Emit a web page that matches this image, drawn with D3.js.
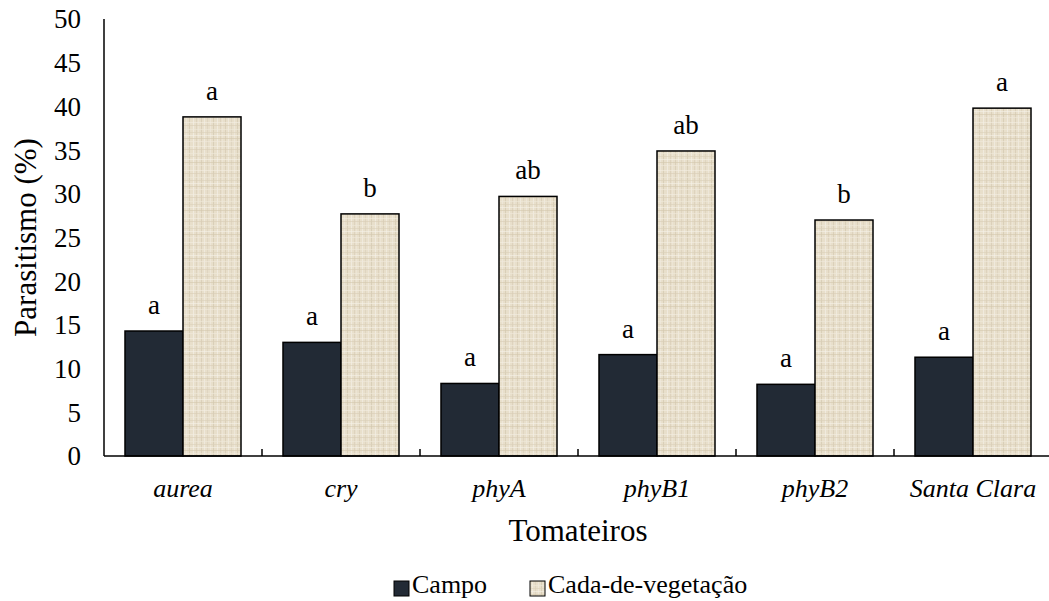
<!DOCTYPE html>
<html><head><meta charset="utf-8"><script src="https://cdn.jsdelivr.net/npm/d3@7"></script></head>
<body style="margin:0">
<script>
// Parasitismo por tomateiro

const categories = ['aurea', 'cry', 'phyA', 'phyB1', 'phyB2', 'Santa Clara'];
const seriesNames = ['Campo', 'Cada-de-vegetação'];
const campo = [14.3, 13.0, 8.3, 11.6, 8.2, 11.3];
const casa = [38.8, 27.7, 29.7, 34.9, 27.0, 39.8];
const campoLetters = ['a', 'a', 'a', 'a', 'a', 'a'];
const casaLetters = ['a', 'b', 'ab', 'ab', 'b', 'a'];
const yTicks = [0, 5, 10, 15, 20, 25, 30, 35, 40, 45, 50];

const FONT = '"Liberation Serif"';
const width = 1049, height = 601;
const margin = { top: 19, right: -3, bottom: 145, left: 104 };

const svg = d3.select('body')
  .append('svg')
  .attr('width', width)
  .attr('height', height);

// linen texture for the greenhouse bars
const defs = svg.append('defs');
const pat = defs.append('pattern')
  .attr('id', 'linen')
  .attr('patternUnits', 'userSpaceOnUse')
  .attr('width', 24)
  .attr('height', 24);
pat.append('rect').attr('width', 24).attr('height', 24).attr('fill', '#e8dfcb');
const vLines = [[1, '#d6cbb3'], [4, '#f3eee3'], [7, '#dcd2bc'], [10, '#f0eadd'], [13, '#d4c9b0'], [17, '#f4f0e6'], [20, '#dacfb8'], [22, '#eee7d8']];
const hLines = [[2, '#f3eee2'], [5, '#d8cdb5'], [9, '#efe9db'], [12, '#dbd0b9'], [15, '#f5f1e8'], [18, '#d3c8ae'], [21, '#f0eadc']];
vLines.forEach(([p, c]) => pat.append('rect').attr('x', p).attr('y', 0).attr('width', 1).attr('height', 24).attr('fill', c).attr('opacity', 0.7));
hLines.forEach(([p, c]) => pat.append('rect').attr('x', 0).attr('y', p).attr('width', 24).attr('height', 1).attr('fill', c).attr('opacity', 0.6));

const x = d3.scaleBand()
  .domain(categories)
  .range([margin.left, width - margin.right])
  .padding(0);

const xs = d3.scaleBand()
  .domain(seriesNames)
  .range([0, x.bandwidth()])
  .paddingInner(0)
  .paddingOuter(0.362);

const y = d3.scaleLinear()
  .domain([0, 50])
  .range([height - margin.bottom, margin.top]);

const y0 = y(0);

// Y axis line + labels (no tick marks)
svg.append('line')
  .attr('x1', margin.left).attr('x2', margin.left)
  .attr('y1', y(50)).attr('y2', y0)
  .attr('stroke', '#000').attr('stroke-width', 1.5);

svg.selectAll('.ytick')
  .data(yTicks)
  .enter().append('text')
  .attr('class', 'ytick')
  .style('font-family', FONT)
  .style('font-size', '27px')
  .attr('x', 81)
  .attr('y', d => y(d))
  .attr('dy', '0.35em')
  .attr('text-anchor', 'end')
  .text(d => d);

// Bars
const rows = categories.map((c, i) => ({ cat: c, vals: [campo[i], casa[i]], letters: [campoLetters[i], casaLetters[i]] }));

const groups = svg.selectAll('.grp')
  .data(rows)
  .enter().append('g')
  .attr('class', 'grp')
  .attr('transform', d => `translate(${x(d.cat)},0)`);

groups.selectAll('rect')
  .data(d => d.vals.map((v, j) => ({ v, s: seriesNames[j], letter: d.letters[j] })))
  .enter().append('rect')
  .attr('x', d => xs(d.s))
  .attr('width', xs.bandwidth())
  .attr('y', d => y(d.v))
  .attr('height', d => y0 - y(d.v))
  .attr('fill', d => d.s === 'Campo' ? '#222a35' : 'url(#linen)')
  .attr('stroke', '#000')
  .attr('stroke-width', 1.5);

groups.selectAll('.lbl')
  .data(d => d.vals.map((v, j) => ({ v, s: seriesNames[j], letter: d.letters[j] })))
  .enter().append('text')
  .attr('class', 'lbl')
  .style('font-family', FONT)
  .style('font-size', '27px')
  .attr('x', d => xs(d.s) + xs.bandwidth() / 2)
  .attr('y', d => y(d.v) - 17)
  .attr('text-anchor', 'middle')
  .text(d => d.letter);

// X axis with inside ticks between categories
svg.append('line')
  .attr('x1', margin.left).attr('x2', width)
  .attr('y1', y0).attr('y2', y0)
  .attr('stroke', '#000').attr('stroke-width', 1.5);

const tickPos = categories.slice(1).map(c => x(c)).concat([x.range()[1]]);
svg.selectAll('.xtick')
  .data(tickPos)
  .enter().append('line')
  .attr('class', 'xtick')
  .attr('x1', d => d).attr('x2', d => d)
  .attr('y1', y0).attr('y2', y0 - 7)
  .attr('stroke', '#000').attr('stroke-width', 1.5);

svg.selectAll('.xlab')
  .data(categories)
  .enter().append('text')
  .attr('class', 'xlab')
  .style('font-family', FONT)
  .style('font-size', '26px')
  .style('font-style', 'italic')
  .attr('x', d => x(d) + x.bandwidth() / 2)
  .attr('y', 497)
  .attr('text-anchor', 'middle')
  .text(d => d);

// Axis titles
const plotMidX = (margin.left + x.range()[1]) / 2;
svg.append('text')
  .style('font-family', FONT)
  .style('font-size', '31px')
  .attr('x', plotMidX)
  .attr('y', 541)
  .attr('text-anchor', 'middle')
  .text('Tomateiros');

svg.append('text')
  .style('font-family', FONT)
  .style('font-size', '31px')
  .attr('transform', `translate(36,${(y(50) + y0) / 2}) rotate(-90)`)
  .attr('text-anchor', 'middle')
  .text('Parasitismo (%)');

// Legend
const legendItems = [
  { name: seriesNames[0], x: 394, fill: '#222a35' },
  { name: seriesNames[1], x: 530, fill: 'url(#linen)' }
];
legendItems.forEach(it => {
  svg.append('rect')
    .attr('x', it.x).attr('y', 581)
    .attr('width', 15).attr('height', 15)
    .attr('fill', it.fill)
    .attr('stroke', '#000').attr('stroke-width', 1);
  svg.append('text')
    .style('font-family', FONT)
    .style('font-size', '26px')
    .attr('x', it.x + 18)
    .attr('y', 593)
    .text(it.name);
});
</script>
</body>
</html>
